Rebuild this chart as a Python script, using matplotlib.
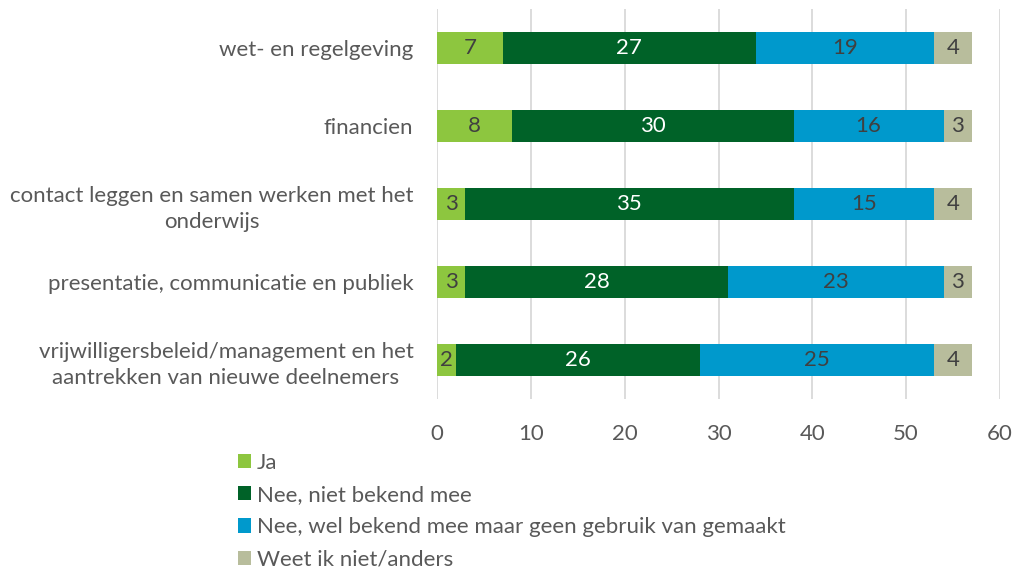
import matplotlib
matplotlib.use("Agg")
import matplotlib.pyplot as plt
from matplotlib.patches import Patch

plt.rcParams['font.family'] = ['Lato', 'DejaVu Sans']

categories = [
    "wet- en regelgeving",
    "financien",
    "contact leggen en samen werken met het\nonderwijs",
    "presentatie, communicatie en publiek",
    "vrijwilligersbeleid/management en het\naantrekken van nieuwe deelnemers",
]
series_names = [
    "Ja",
    "Nee, niet bekend mee",
    "Nee, wel bekend mee maar geen gebruik van gemaakt",
    "Weet ik niet/anders",
]
ja = [7, 8, 3, 3, 2]
nee_niet = [27, 30, 35, 28, 26]
nee_wel = [19, 16, 15, 23, 25]
weet_niet = [4, 3, 4, 3, 4]
xticks = [0, 10, 20, 30, 40, 50, 60]

series = [ja, nee_niet, nee_wel, weet_niet]
colors = ["#8DC63F", "#006228", "#0099CC", "#B8BD9C"]
label_colors = ["#404040", "white", "#404040", "#404040"]
txt = "#595959"
fs = 16

fig = plt.figure(figsize=(10.23, 5.73), dpi=100)
ax = fig.add_axes([437/1023, 1-399/573, (1000-437)/1023, 390/573])

ypos = list(range(len(categories)))
left = [0]*len(categories)
for vals, c, lc in zip(series, colors, label_colors):
    bars = ax.barh(ypos, vals, left=left, height=0.4, color=c, zorder=3)
    for b, v in zip(bars, vals):
        ax.text(b.get_x() + b.get_width()/2, b.get_y() + b.get_height()/2, str(v),
                ha='center', va='center', color=lc, fontsize=fs, zorder=4)
    left = [l + v for l, v in zip(left, vals)]

ax.set_xlim(0, 60)
ax.set_ylim(len(categories)-0.5, -0.5)
ax.set_xticks(xticks)
ax.set_xticklabels([str(t) for t in xticks])
ax.set_yticks(ypos)
ax.set_yticklabels(categories, fontsize=fs, color=txt, linespacing=1.4)
ax.tick_params(axis='x', labelsize=fs, colors=txt, length=0, pad=18)
ax.tick_params(axis='y', length=0, pad=17)
ax.grid(axis='x', color='#D9D9D9', linewidth=1.3, zorder=0)
for s in ax.spines.values():
    s.set_visible(False)
for t in ax.get_yticklabels():
    t.set_multialignment('center')

handles = [Patch(facecolor=c, edgecolor='none') for c in colors]
fig.legend(handles, series_names, loc='upper left', bbox_to_anchor=(229/1023, 1-444/573),
           frameon=False, fontsize=fs, labelcolor=txt, handlelength=0.6, handleheight=0.6,
           handletextpad=0.25, labelspacing=0.55, borderaxespad=0)

fig.savefig("out.png", dpi=100)
